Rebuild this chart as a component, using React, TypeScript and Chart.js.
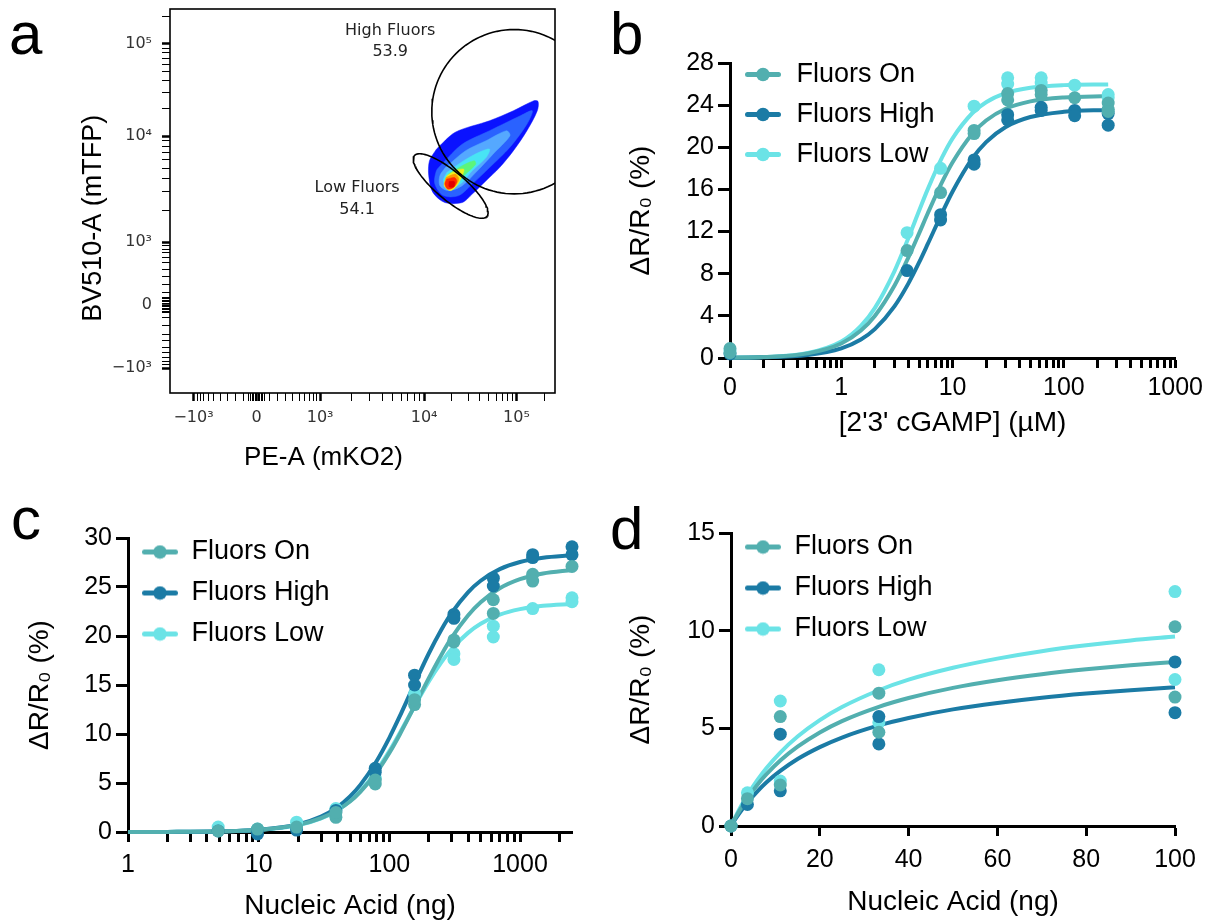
import React, { useEffect, useRef } from 'react';
import { Chart, registerables } from 'chart.js';

Chart.register(...registerables);

const SANS = '"Liberation Sans", Arial, Helvetica, sans-serif';
const FLOW_FONT = '"DejaVu Sans", "Lucida Grande", sans-serif';

const SERIES_NAMES = ['Fluors On', 'Fluors High', 'Fluors Low'];
const SERIES_COLORS = ['#52afaf', '#1b7ba5', '#6be3e6'];

// ---------------- Panel a : flow cytometry ----------------
const A_X_MAJOR = [6.1, 22.5, 39.0, 66.0, 90.0];
const A_Y_MAJOR = [6.5, 22.9, 39.3, 66.9, 90.9];
const A_MAJOR_LABELS = ['\u221210\u00b3', '0', '10\u00b3', '10\u2074', '10\u2075'];
const A_NEAR_ZERO_FRAC = [0.2, 0.33, 0.46, 0.57, 0.68, 0.76, 0.84, 0.89, 0.94];
const A_ZERO_CLUSTER = [0.4, 0.8, 1.2, 1.6, 2.0];

const A_LABEL_TEXT = ['High Fluors', '53.9', 'Low Fluors', '54.1'];
const A_LABEL_X = [57.2, 57.2, 48.6, 48.6];
const A_LABEL_Y = [94.4, 88.9, 53.3, 47.8];

const A_HIGH_GATE = { cx: 89.4, cy: 73.25, r: 21.4 };
const A_LOW_GATE = { cx: 72.9, cy: 53.9, a: 12.3, b: 3.7, angleDeg: -40 };

const A_DENS_1: [number, number][] = [[69.2, 63.5], [74.1, 67.9], [83.0, 70.9], [89.2, 73.5], [94.5, 76.1], [95.6, 75.9], [95.4, 73.5], [92.7, 68.3], [89.2, 63.1], [85.6, 58.7], [82.1, 55.3], [78.5, 51.8], [75.9, 49.6], [71.4, 49.6], [68.3, 52.2], [67.2, 56.6], [67.4, 60.5], [69.2, 63.5]];
const A_DENS_2: [number, number][] = [[70.6, 59.6], [75.9, 64.8], [83.0, 68.3], [91.0, 72.2], [94.1, 73.5], [92.7, 70.0], [88.3, 64.0], [83.0, 58.7], [78.5, 54.4], [75.0, 51.4], [71.0, 51.4], [68.8, 54.4], [69.2, 57.9], [70.6, 59.6]];
const A_DENS_3: [number, number][] = [[71.5, 58.7], [76.8, 63.1], [82.1, 65.7], [87.4, 68.3], [88.3, 67.0], [83.9, 62.2], [79.4, 57.4], [75.9, 54.0], [72.3, 52.7], [70.1, 54.0], [70.1, 56.6], [71.5, 58.7]];
const A_DENS_4: [number, number][] = [[71.9, 57.4], [76.3, 60.5], [80.3, 62.7], [83.0, 63.5], [82.1, 61.3], [78.5, 57.9], [75.4, 54.4], [72.3, 53.5], [71.0, 55.3], [71.9, 57.4]];
const A_DENS_5: [number, number][] = [[72.3, 57.0], [75.9, 59.2], [79.0, 60.5], [79.4, 59.6], [77.2, 57.4], [75.0, 55.3], [72.8, 54.4], [71.7, 55.7], [72.3, 57.0]];
const A_DENS_6: [number, number][] = [[71.9, 56.6], [74.1, 57.9], [76.3, 58.3], [75.9, 56.6], [74.5, 54.0], [72.8, 52.7], [71.2, 54.0], [71.9, 56.6]];
const A_DENS_7: [number, number][] = [[71.7, 56.1], [74.1, 57.0], [75.0, 55.7], [74.1, 54.0], [72.5, 53.1], [71.4, 54.4], [71.7, 56.1]];
const A_DENS_8: [number, number][] = [[71.9, 55.7], [73.9, 56.1], [74.5, 55.1], [73.6, 53.5], [72.1, 53.1], [71.4, 54.4], [71.9, 55.7]];
const A_DENS_9: [number, number][] = [[72.5, 55.1], [73.9, 55.0], [73.7, 53.7], [72.5, 53.7], [72.5, 55.1]];
const A_DENS_LEVELS = [A_DENS_1, A_DENS_2, A_DENS_3, A_DENS_4, A_DENS_5, A_DENS_6, A_DENS_7, A_DENS_8, A_DENS_9];
const A_DENS_COLORS = ['#0a12ff', '#2a62ff', '#55a8ff', '#48e4f4', '#5cf57a', '#eef020', '#ff9a00', '#ff2a00', '#e00000'];

// ---------------- Panel b : cGAMP titration ----------------
const B_ON_X = [0, 0, 3.9, 7.8, 15.6, 15.6, 31.25, 31.25, 62.5, 62.5, 125, 250, 250, 250];
const B_ON_Y = [0.9, 0.5, 10.2, 15.7, 21.6, 21.3, 25.1, 24.5, 25.4, 25.0, 24.7, 24.2, 23.6, 23.4];
const B_HIGH_X = [0, 3.9, 7.8, 7.8, 15.6, 15.6, 31.25, 31.25, 62.5, 62.5, 125, 125, 250, 250];
const B_HIGH_Y = [0.4, 8.3, 13.6, 13.1, 18.8, 18.4, 23.1, 22.6, 23.8, 23.5, 23.5, 23.0, 23.2, 22.1];
const B_LOW_X = [0, 3.9, 7.8, 15.6, 31.25, 31.25, 62.5, 62.5, 125, 250, 250];
const B_LOW_Y = [0.7, 11.9, 18.0, 23.9, 26.6, 26.0, 26.6, 26.1, 25.9, 25.0, 24.7];
const B_FIT_X = [0.1, 0.2, 0.5, 1, 1.5, 2, 3, 4, 5, 6, 8, 10, 15, 20, 30, 50, 100, 250];
const B_FIT_ON = [0.03, 0.09, 0.44, 1.38, 2.61, 3.99, 6.86, 9.53, 11.83, 13.76, 16.64, 18.58, 21.27, 22.54, 23.66, 24.36, 24.73, 24.86];
const B_FIT_HIGH = [0.02, 0.06, 0.29, 0.92, 1.76, 2.74, 4.9, 7.06, 9.07, 10.85, 13.71, 15.8, 18.92, 20.49, 21.93, 22.87, 23.37, 23.55];
const B_FIT_LOW = [0.03, 0.09, 0.47, 1.57, 3.05, 4.74, 8.23, 11.37, 13.97, 16.05, 18.99, 20.85, 23.23, 24.28, 25.14, 25.65, 25.9, 25.97];

// ---------------- Panel c : nucleic acid (log) ----------------
const C_ON_X = [4.9, 9.8, 19.5, 39, 39, 78, 78, 156, 156, 312, 312, 625, 625, 1250, 1250, 2500];
const C_ON_Y = [0.1, 0.3, 0.5, 1.5, 2.0, 4.9, 5.3, 13.0, 13.5, 19.4, 19.6, 22.3, 23.7, 26.3, 25.6, 27.1];
const C_HIGH_X = [4.9, 9.8, 9.8, 19.5, 39, 78, 78, 156, 156, 312, 312, 625, 625, 1250, 1250, 2500, 2500];
const C_HIGH_Y = [0.1, 0.2, -0.2, 0.2, 2.2, 6.5, 6.1, 16.0, 15.0, 22.2, 21.8, 25.9, 25.1, 28.3, 28.0, 29.1, 28.3];
const C_LOW_X = [4.9, 9.8, 19.5, 39, 78, 156, 312, 312, 625, 625, 1250, 2500, 2500];
const C_LOW_Y = [0.5, 0.3, 1.0, 2.4, 5.5, 14.1, 18.2, 17.6, 21.0, 19.9, 22.8, 23.9, 23.5];
const C_FIT_X = [1, 2, 5, 10, 20, 30, 40, 50, 60, 80, 100, 120, 150, 200, 250, 300, 400, 500, 700, 1000, 1500, 2500];
const C_FIT_ON = [0.0, 0.01, 0.07, 0.23, 0.73, 1.41, 2.23, 3.11, 4.1, 6.1, 8.07, 9.93, 12.41, 15.68, 18.07, 19.83, 22.09, 23.44, 24.87, 25.8, 26.38, 26.74];
const C_FIT_HIGH = [0.0, 0.01, 0.07, 0.23, 0.78, 1.57, 2.54, 3.64, 4.81, 7.25, 9.61, 11.79, 14.63, 18.19, 20.64, 22.36, 24.46, 25.64, 26.82, 27.55, 27.98, 28.23];
const C_FIT_LOW = [0.0, 0.01, 0.06, 0.2, 0.68, 1.38, 2.22, 3.17, 4.18, 6.26, 8.25, 10.08, 12.43, 15.33, 17.3, 18.67, 20.32, 21.25, 22.18, 22.74, 23.08, 23.27];

// ---------------- Panel d : nucleic acid (linear) ----------------
const D_X = [0, 3.7, 11.1, 11.1, 33.3, 33.3, 100, 100];
const D_ON_Y = [0, 1.4, 5.6, 2.1, 6.8, 4.8, 10.2, 6.6];
const D_HIGH_Y = [0, 1.1, 4.7, 1.8, 5.6, 4.2, 8.4, 5.8];
const D_LOW_Y = [0, 1.7, 6.4, 2.3, 8.0, 5.3, 12.0, 7.5];
const D_FIT_X = [0, 1, 2, 3.7, 6, 8, 11.1, 15, 20, 25, 33.3, 40, 50, 60, 70, 80, 90, 100];
const D_FIT_ON = [0, 0.43, 0.82, 1.42, 2.13, 2.65, 3.35, 4.06, 4.79, 5.37, 6.1, 6.55, 7.07, 7.46, 7.77, 8.02, 8.23, 8.4];
const D_FIT_HIGH = [0, 0.36, 0.69, 1.2, 1.79, 2.24, 2.82, 3.43, 4.04, 4.53, 5.15, 5.53, 5.97, 6.3, 6.57, 6.78, 6.95, 7.1];
const D_FIT_LOW = [0, 0.47, 0.91, 1.58, 2.37, 2.97, 3.76, 4.58, 5.42, 6.09, 6.95, 7.49, 8.1, 8.57, 8.95, 9.25, 9.5, 9.7];

const Y_TITLE = '\u0394R/R\u2080 (%)';

// ---------------- helpers ----------------
type Series = { name: string; color: string; px: number[]; py: number[]; fx: number[]; fy: number[] };

function logTicks(decades: number[], last: number[]): number[] {
  const t: number[] = [];
  decades.forEach((d) => {
    for (let k = 1; k <= 9; k++) t.push(+(d * k).toPrecision(6));
  });
  return t.concat(last);
}

function legendMarker(color: string) {
  const c = document.createElement('canvas');
  c.width = 36;
  c.height = 15;
  const g = c.getContext('2d')!;
  g.strokeStyle = color;
  g.lineWidth = 5;
  g.lineCap = 'round';
  g.beginPath();
  g.moveTo(2.5, 7.5);
  g.lineTo(33.5, 7.5);
  g.stroke();
  g.fillStyle = color;
  g.beginPath();
  g.arc(18, 7.5, 6.8, 0, Math.PI * 2);
  g.fill();
  return c;
}

function legendShift(dy: number) {
  return {
    id: 'legendShift',
    afterLayout(chart: any) {
      const l = chart.legend;
      const a = chart.chartArea;
      if (!l || !a) return;
      l.left = a.left;
      l.right = a.right;
      l.top = a.top + dy;
      l.bottom = a.bottom;
      l.width = a.right - a.left;
      l.height = a.bottom - l.top;
    },
  };
}

interface DoseSpec {
  series: Series[];
  xType: 'logarithmic' | 'linear';
  xMin: number;
  xMax: number;
  xTicks: number[];
  xLabel: (v: number) => string;
  yMax: number;
  yStep: number;
  xTitle: string;
  pad: { left: number; top: number; right: number; bottom: number };
  yWidth: number;
  xHeight: number;
  yTitlePad: number;
  xTitlePad: number;
  xTickPad: number;
  yTickPad: number;
  legendPad: number;
  legendBoxW: number;
  legendDy: number;
  zeroAt: number;
}

function makeDoseChart(canvas: HTMLCanvasElement, spec: DoseSpec) {
  const markers = spec.series.map((s) => legendMarker(s.color));
  const pointSets = spec.series.map((s) => ({
    label: s.name,
    data: s.px.map((x, i) => ({ x: x === 0 ? spec.zeroAt : x, y: s.py[i] })),
    backgroundColor: s.color,
    borderColor: s.color,
    pointRadius: 6.5,
    pointBorderWidth: 0,
    pointHoverRadius: 6.5,
    showLine: false,
    clip: false,
  }));
  const curveSets = spec.series.map((s) => ({
    label: s.name + ' fit',
    data: s.fx.map((x, i) => ({ x: x === 0 ? spec.zeroAt : x, y: s.fy[i] })),
    borderColor: s.color,
    backgroundColor: s.color,
    borderWidth: 4,
    pointRadius: 0,
    pointHoverRadius: 0,
    showLine: true,
    cubicInterpolationMode: 'monotone',
    fill: false,
    clip: false,
  }));

  return new Chart(canvas, {
    type: 'scatter',
    data: { datasets: [...pointSets, ...curveSets] as any },
    plugins: [legendShift(spec.legendDy)],
    options: {
      responsive: false,
      animation: false,
      events: [],
      layout: { padding: spec.pad },
      scales: {
        x: {
          type: spec.xType,
          position: 'bottom',
          min: spec.xMin,
          max: spec.xMax,
          afterBuildTicks: (scale: any) => {
            scale.ticks = spec.xTicks.map((v) => ({ value: v }));
          },
          afterFit: (scale: any) => {
            scale.height = spec.xHeight;
          },
          ticks: {
            autoSkip: false,
            maxRotation: 0,
            minRotation: 0,
            padding: spec.xTickPad,
            color: '#000',
            font: { family: SANS, size: 25 },
            callback: (v: any) => spec.xLabel(Number(v)),
          },
          grid: { display: true, drawOnChartArea: false, drawTicks: true, tickLength: 10, tickWidth: 3, tickColor: '#000' },
          border: { display: true, width: 3, color: '#000' },
          title: {
            display: true,
            text: spec.xTitle,
            color: '#000',
            font: { family: SANS, size: 28 },
            padding: { top: 0, bottom: spec.xTitlePad },
          },
        } as any,
        y: {
          type: 'linear',
          position: 'left',
          min: 0,
          max: spec.yMax,
          afterFit: (scale: any) => {
            scale.width = spec.yWidth;
          },
          ticks: {
            stepSize: spec.yStep,
            padding: spec.yTickPad,
            color: '#000',
            font: { family: SANS, size: 25 },
          },
          grid: { display: true, drawOnChartArea: false, drawTicks: true, tickLength: 12, tickWidth: 3, tickColor: '#000' },
          border: { display: true, width: 3, color: '#000' },
          title: {
            display: true,
            text: Y_TITLE,
            color: '#000',
            font: { family: SANS, size: 28 },
            padding: { top: spec.yTitlePad, bottom: 0 },
          },
        } as any,
      },
      plugins: {
        tooltip: { enabled: false },
        legend: {
          display: true,
          position: 'chartArea',
          align: 'start',
          labels: {
            usePointStyle: true,
            pointStyleWidth: spec.legendBoxW,
            padding: spec.legendPad,
            color: '#000',
            font: { family: SANS, size: 27 },
            generateLabels: () =>
              spec.series.map((s, i) => ({
                text: s.name,
                pointStyle: markers[i],
                fillStyle: s.color,
                strokeStyle: s.color,
                lineWidth: 0,
                hidden: false,
                datasetIndex: i,
                fontColor: '#000',
              })),
          },
        } as any,
      },
    } as any,
  });
}

function flowTicks(m: number[]): number[] {
  const [neg, zero, d3, d4, d5] = m;
  const t: number[] = [...m];
  A_NEAR_ZERO_FRAC.forEach((f) => {
    t.push(zero + (d3 - zero) * f);
    t.push(zero - (zero - neg) * f);
  });
  A_ZERO_CLUSTER.forEach((o) => {
    t.push(zero + o);
    t.push(zero - o);
  });
  for (let k = 2; k <= 9; k++) {
    const l = Math.log10(k);
    t.push(d3 + (d4 - d3) * l);
    t.push(d4 + (d5 - d4) * l);
  }
  t.push(d5 + (d5 - d4) * Math.log10(2));
  return t.sort((a, b) => a - b);
}

function flowAxis(major: number[], pos: 'bottom' | 'left', title: string, extra: any) {
  const labels = new Map<number, string>();
  major.forEach((v, i) => labels.set(v, A_MAJOR_LABELS[i]));
  const ticks = flowTicks(major);
  return {
    type: 'linear',
    position: pos,
    min: 0,
    max: 100,
    afterBuildTicks: (scale: any) => {
      scale.ticks = ticks.map((v) => ({ value: v }));
    },
    ticks: {
      autoSkip: false,
      maxRotation: 0,
      minRotation: 0,
      color: '#333',
      font: { family: FLOW_FONT, size: 16 },
      callback: (v: any) => labels.get(Number(v)) ?? '',
      ...extra.ticks,
    },
    grid: {
      display: true,
      drawOnChartArea: false,
      drawTicks: true,
      tickLength: 8,
      tickColor: '#000',
      tickWidth: (ctx: any) => (ctx.tick && labels.has(ctx.tick.value) ? 2.5 : 1),
    },
    border: { display: false },
    title: {
      display: true,
      text: title,
      color: '#000',
      font: { family: SANS, size: extra.titleSize },
      padding: extra.titlePad,
    },
    afterFit: extra.afterFit,
  };
}

function gatePoints(kind: 'circle' | 'ellipse') {
  const pts: { x: number; y: number }[] = [];
  const n = 120;
  for (let i = 0; i <= n; i++) {
    const t = (i / n) * Math.PI * 2;
    if (kind === 'circle') {
      pts.push({ x: A_HIGH_GATE.cx + A_HIGH_GATE.r * Math.cos(t), y: A_HIGH_GATE.cy + A_HIGH_GATE.r * Math.sin(t) });
    } else {
      const g = A_LOW_GATE;
      const th = (g.angleDeg * Math.PI) / 180;
      const ex = g.a * Math.cos(t);
      const ey = g.b * Math.sin(t);
      pts.push({ x: g.cx + ex * Math.cos(th) - ey * Math.sin(th), y: g.cy + ex * Math.sin(th) + ey * Math.cos(th) });
    }
  }
  return pts;
}

// canvas for panel a starts above the page top so that its plot frame lands at y = 9
const A_CANVAS_TOP = -16;

function makeFlowChart(canvas: HTMLCanvasElement) {
  const frame = {
    id: 'flowFrame',
    afterDraw(chart: any) {
      const { ctx, chartArea: a } = chart;
      ctx.save();
      ctx.strokeStyle = '#000';
      ctx.lineWidth = 1.6;
      ctx.strokeRect(a.left, a.top, a.right - a.left, a.bottom - a.top);
      ctx.restore();
    },
  };
  const labelsPlugin = {
    id: 'flowLabels',
    afterDatasetsDraw(chart: any) {
      const { ctx } = chart;
      const xs = chart.scales.x;
      const ys = chart.scales.y;
      ctx.save();
      ctx.font = `16px ${FLOW_FONT}`;
      ctx.fillStyle = '#222';
      ctx.textAlign = 'center';
      ctx.textBaseline = 'middle';
      A_LABEL_TEXT.forEach((t, i) => ctx.fillText(t, xs.getPixelForValue(A_LABEL_X[i]), ys.getPixelForValue(A_LABEL_Y[i])));
      ctx.restore();
    },
  };
  const gateSets = [
    { label: 'High Fluors gate', data: gatePoints('circle') },
    { label: 'Low Fluors gate', data: gatePoints('ellipse') },
  ].map((d) => ({ ...d, showLine: true, borderColor: '#000', borderWidth: 1.6, pointRadius: 0, fill: false }));
  const densSets = A_DENS_LEVELS.map((poly, i) => ({
    label: 'density ' + (i + 1),
    data: poly.map(([x, y]) => ({ x, y })),
    showLine: true,
    fill: 'shape',
    tension: 0.3,
    backgroundColor: A_DENS_COLORS[i],
    borderColor: A_DENS_COLORS[i],
    borderWidth: 0.5,
    pointRadius: 0,
  })).reverse();

  return new Chart(canvas, {
    type: 'scatter',
    data: { datasets: [...gateSets, ...densSets] as any },
    plugins: [frame, labelsPlugin],
    options: {
      responsive: false,
      animation: false,
      events: [],
      layout: { padding: { left: 0, top: 9 - A_CANVAS_TOP, right: 45, bottom: 0 } },
      scales: {
        x: flowAxis(A_X_MAJOR, 'bottom', 'PE-A (mKO2)\u2003\u2003\u2003', {
          ticks: { padding: 7 },
          titleSize: 26,
          titlePad: { top: 0, bottom: 12 },
          afterFit: (s: any) => {
            s.height = 92;
          },
        }) as any,
        y: flowAxis(A_Y_MAJOR, 'left', 'BV510-A (mTFP)\u2003 ', {
          ticks: { padding: 10 },
          titleSize: 27,
          titlePad: { top: 77, bottom: 0 },
          afterFit: (s: any) => {
            s.width = 170;
          },
        }) as any,
      },
      plugins: { legend: { display: false }, tooltip: { enabled: false } },
    } as any,
  });
}

const B_SERIES: Series[] = [
  { name: SERIES_NAMES[0], color: SERIES_COLORS[0], px: B_ON_X, py: B_ON_Y, fx: B_FIT_X, fy: B_FIT_ON },
  { name: SERIES_NAMES[1], color: SERIES_COLORS[1], px: B_HIGH_X, py: B_HIGH_Y, fx: B_FIT_X, fy: B_FIT_HIGH },
  { name: SERIES_NAMES[2], color: SERIES_COLORS[2], px: B_LOW_X, py: B_LOW_Y, fx: B_FIT_X, fy: B_FIT_LOW },
];
const C_SERIES: Series[] = [
  { name: SERIES_NAMES[0], color: SERIES_COLORS[0], px: C_ON_X, py: C_ON_Y, fx: C_FIT_X, fy: C_FIT_ON },
  { name: SERIES_NAMES[1], color: SERIES_COLORS[1], px: C_HIGH_X, py: C_HIGH_Y, fx: C_FIT_X, fy: C_FIT_HIGH },
  { name: SERIES_NAMES[2], color: SERIES_COLORS[2], px: C_LOW_X, py: C_LOW_Y, fx: C_FIT_X, fy: C_FIT_LOW },
];
const D_SERIES: Series[] = [
  { name: SERIES_NAMES[0], color: SERIES_COLORS[0], px: D_X, py: D_ON_Y, fx: D_FIT_X, fy: D_FIT_ON },
  { name: SERIES_NAMES[1], color: SERIES_COLORS[1], px: D_X, py: D_HIGH_Y, fx: D_FIT_X, fy: D_FIT_HIGH },
  { name: SERIES_NAMES[2], color: SERIES_COLORS[2], px: D_X, py: D_LOW_Y, fx: D_FIT_X, fy: D_FIT_LOW },
];

const B_X_TICKS = logTicks([0.1, 1, 10, 100], [1000]);
const C_X_TICKS = logTicks([1, 10, 100], [1000, 2000]);
const D_X_TICKS = [0, 20, 40, 60, 80, 100];
const B_MAJOR_LABELS = new Map<number, string>([[0.1, '0'], [1, '1'], [10, '10'], [100, '100'], [1000, '1000']]);
const C_MAJOR_LABELS = new Map<number, string>([[1, '1'], [10, '10'], [100, '100'], [1000, '1000']]);

const PANEL_LETTERS = [
  { t: 'a', left: 9, top: 4 },
  { t: 'b', left: 610, top: 4 },
  { t: 'c', left: 11, top: 489 },
  { t: 'd', left: 610, top: 499 },
];

export default function App() {
  const aRef = useRef<HTMLCanvasElement>(null);
  const bRef = useRef<HTMLCanvasElement>(null);
  const cRef = useRef<HTMLCanvasElement>(null);
  const dRef = useRef<HTMLCanvasElement>(null);

  useEffect(() => {
    const charts: Chart[] = [];
    charts.push(makeFlowChart(aRef.current!));
    charts.push(
      makeDoseChart(bRef.current!, {
        series: B_SERIES,
        xType: 'logarithmic',
        xMin: 0.1,
        xMax: 1000,
        xTicks: B_X_TICKS,
        xLabel: (v) => B_MAJOR_LABELS.get(v) ?? '',
        yMax: 28,
        yStep: 4,
        xTitle: "[2'3' cGAMP] (\u00b5M)",
        pad: { left: 0, top: 63, right: 32, bottom: 0 },
        yWidth: 130,
        xHeight: 102,
        yTitlePad: 24,
        xTitlePad: 20,
        xTickPad: 5,
        yTickPad: 4,
        legendPad: 13,
        legendBoxW: 40,
        legendDy: -15,
        zeroAt: 0.1,
      })
    );
    charts.push(
      makeDoseChart(cRef.current!, {
        series: C_SERIES,
        xType: 'logarithmic',
        xMin: 1,
        xMax: 2500,
        xTicks: C_X_TICKS,
        xLabel: (v) => C_MAJOR_LABELS.get(v) ?? '',
        yMax: 30,
        yStep: 5,
        xTitle: 'Nucleic Acid (ng)',
        pad: { left: 0, top: 78, right: 28, bottom: 0 },
        yWidth: 128,
        xHeight: 91,
        yTitlePad: 23,
        xTitlePad: 0,
        xTickPad: 8,
        yTickPad: 4,
        legendPad: 14,
        legendBoxW: 36,
        legendDy: -13.5,
        zeroAt: 1,
      })
    );
    charts.push(
      makeDoseChart(dRef.current!, {
        series: D_SERIES,
        xType: 'linear',
        xMin: 0,
        xMax: 100,
        xTicks: D_X_TICKS,
        xLabel: (v) => String(v),
        yMax: 15,
        yStep: 5,
        xTitle: 'Nucleic Acid (ng)',
        pad: { left: 0, top: 73, right: 33, bottom: 0 },
        yWidth: 131,
        xHeight: 97,
        yTitlePad: 24,
        xTitlePad: 4,
        xTickPad: 9,
        yTickPad: 4,
        legendPad: 14,
        legendBoxW: 36,
        legendDy: -13.5,
        zeroAt: 0,
      })
    );
    return () => charts.forEach((c) => c.destroy());
  }, []);

  const abs = (left: number, top: number): React.CSSProperties => ({ position: 'absolute', left, top });

  return (
    <div style={{ position: 'absolute', left: 0, top: 0, width: 1208, height: 923, background: '#fff', overflow: 'hidden' }}>
      <canvas ref={aRef} width={600} height={485 - A_CANVAS_TOP} style={abs(0, A_CANVAS_TOP)} />
      <canvas ref={bRef} width={608} height={460} style={abs(600, 0)} />
      <canvas ref={cRef} width={600} height={463} style={abs(0, 460)} />
      <canvas ref={dRef} width={608} height={463} style={abs(600, 460)} />
      {PANEL_LETTERS.map((p) => (
        <div
          key={p.t}
          style={{ ...abs(p.left, p.top), fontFamily: SANS, fontSize: 60, lineHeight: '60px', color: '#000' }}
        >
          {p.t}
        </div>
      ))}
    </div>
  );
}
